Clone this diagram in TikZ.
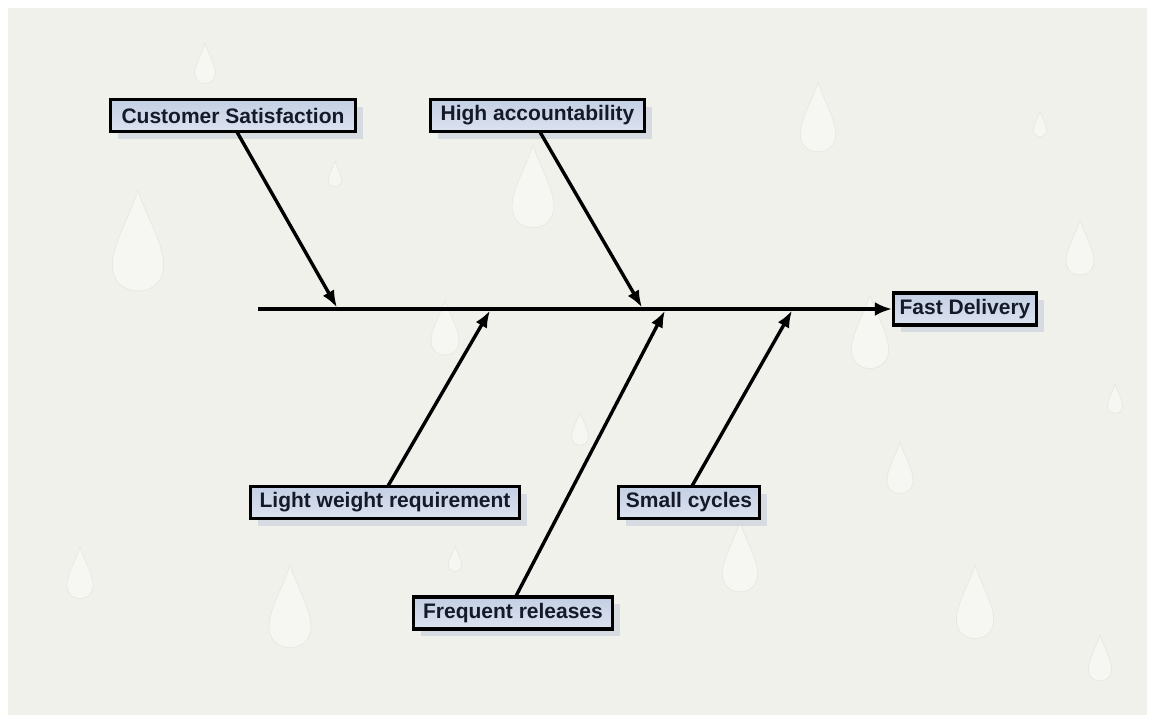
\documentclass[tikz,border=0pt]{standalone}
\usepackage{fontspec}
\setmainfont{Liberation Sans}
\usetikzlibrary{arrows.meta,shadows}
\definecolor{bgc}{HTML}{F1F1EB}
\definecolor{dropc}{HTML}{F8F8F4}
\definecolor{dropedge}{HTML}{E4E4DC}
\definecolor{boxtop}{HTML}{C3CFE4}
\definecolor{boxbot}{HTML}{DCE3F0}
\definecolor{shadc}{HTML}{D6DBE2}
\definecolor{txtc}{HTML}{151A28}
\tikzset{
  cause/.style={draw=black, line width=3.4pt, top color=boxtop, bottom color=boxbot,
    font=\bfseries\fontsize{21}{23}\selectfont, text=txtc, inner sep=0pt,
    minimum height=32pt, anchor=center,
    drop shadow={shadow xshift=7pt, shadow yshift=-7pt, fill=shadc, opacity=1}},
  bone/.style={line width=3.4pt, draw=black, -{Latex[length=17pt,width=13pt]}},
  spineline/.style={line width=3.4pt, draw=black, -{Latex[length=17pt,width=14pt]}},
  drop/.style={fill=dropc, draw=dropedge, line width=0.6pt, opacity=0.8}
}
\newcommand{\wdrop}[3]{% x, y, size
  \path[drop] (#1,#2-1.0*#3) .. controls (#1+0.15*#3,#2-0.5*#3) and (#1+0.55*#3,#2+0.1*#3) .. (#1+0.45*#3,#2+0.5*#3)
     .. controls (#1+0.35*#3,#2+0.95*#3) and (#1-0.35*#3,#2+0.95*#3) .. (#1-0.45*#3,#2+0.5*#3)
     .. controls (#1-0.55*#3,#2+0.1*#3) and (#1-0.15*#3,#2-0.5*#3) .. (#1,#2-1.0*#3);}
\begin{document}
\begin{tikzpicture}[x=1pt,y=-1pt]
\useasboundingbox (0,0) rectangle (1155,723);
\fill[white] (0,0) rectangle (1155,723);
\fill[bgc] (8,8) rectangle (1147,715);
% faint water drops in the background
\wdrop{138}{245}{55}
\wdrop{533}{190}{45}
\wdrop{818}{120}{38}
\wdrop{1080}{250}{30}
\wdrop{870}{335}{40}
\wdrop{445}{330}{30}
\wdrop{290}{610}{45}
\wdrop{740}{560}{38}
\wdrop{975}{605}{40}
\wdrop{900}{470}{28}
\wdrop{205}{65}{22}
\wdrop{80}{575}{28}
\wdrop{1100}{660}{25}
\wdrop{335}{175}{14}
\wdrop{1040}{125}{14}
\wdrop{1115}{400}{16}
\wdrop{455}{560}{14}
\wdrop{580}{430}{18}
% nodes
\node[cause, minimum width=245pt] (cs) at (233,115.5) {Customer Satisfaction};
\node[cause, minimum width=214pt] (ha) at (537.5,115.5) {High accountability};
\node[cause, minimum width=143pt] (fd) at (965,309) {Fast Delivery};
\node[cause, minimum width=269pt] (lw) at (385,502.5) {Light weight requirement};
\node[cause, minimum width=141pt] (sc) at (689,502.5) {Small cycles};
\node[cause, minimum width=199pt] (fr) at (513,613) {Frequent releases};
% spine
\coordinate (tail) at (258,309);
\coordinate (t1) at (337,307.5);
\coordinate (t2) at (642,307.5);
\coordinate (b1) at (490,310.5);
\coordinate (b2) at (665,310.5);
\coordinate (b3) at (792,310.5);
\coordinate (s1) at (237,132);
\coordinate (s2) at (540,132);
\coordinate (s3) at (388,486);
\coordinate (s4) at (516,596);
\coordinate (s5) at (692,486);
\draw[spineline] (tail) -- (fd.west);
\draw[bone] (s1) -- (t1);
\draw[bone] (s2) -- (t2);
\draw[bone] (s3) -- (b1);
\draw[bone] (s4) -- (b2);
\draw[bone] (s5) -- (b3);
\end{tikzpicture}
\end{document}
